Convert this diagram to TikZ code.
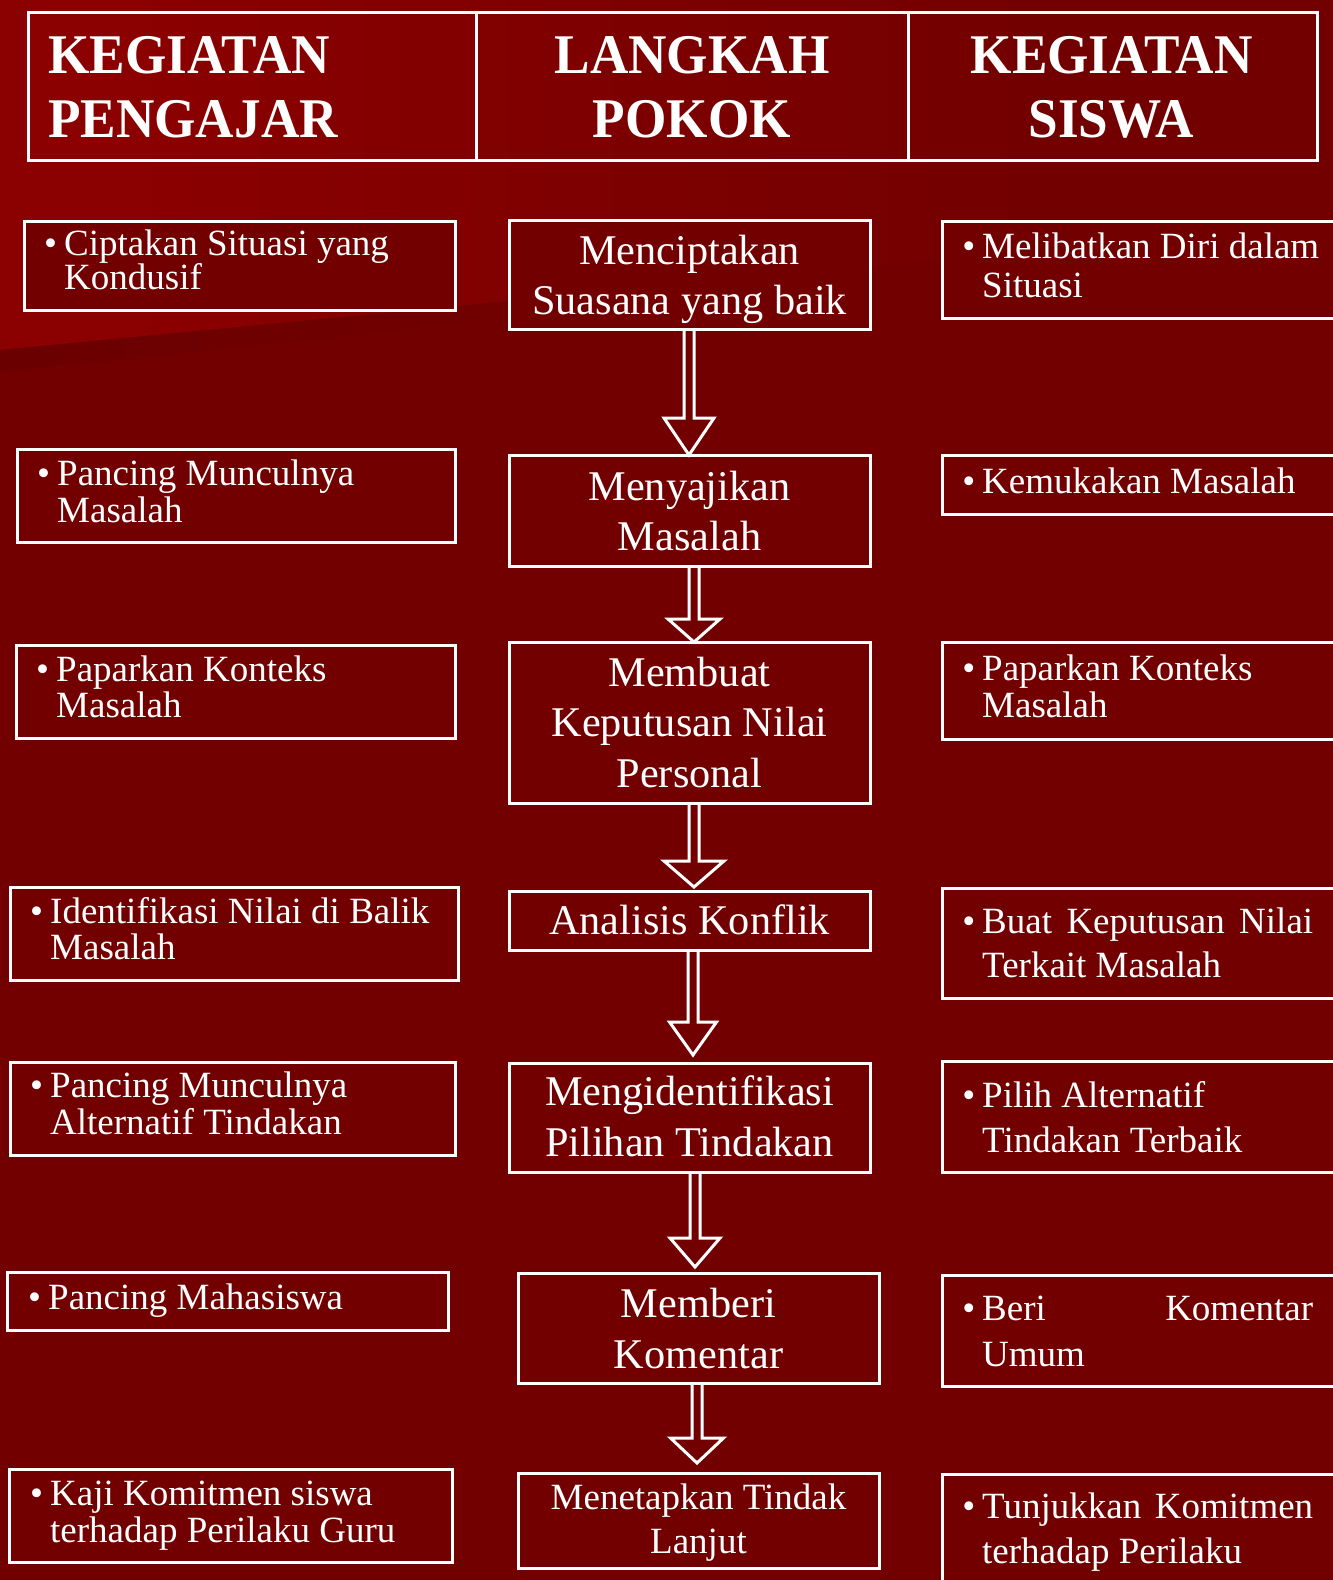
\documentclass[tikz,border=0pt]{standalone}
\usepackage{fontspec}
\setmainfont{Liberation Serif}
\newfontfamily\headfont{Liberation Serif}[FakeStretch=0.95]
\usetikzlibrary{calc}

\definecolor{bgred}{RGB}{114,0,0}
\definecolor{glowred}{RGB}{139,0,0}
\definecolor{shadered}{RGB}{102,0,0}

\pgfdeclarehorizontalshading{glow}{100bp}{color(0bp)=(glowred); color(30bp)=(glowred); color(50bp)=(glowred!40!bgred); color(65bp)=(bgred); color(100bp)=(bgred)}
\pgfdeclarehorizontalshading{edgeshadow}{100bp}{color(0bp)=(shadered); color(25bp)=(shadered!60!bgred); color(45bp)=(bgred); color(100bp)=(bgred)}

% rows of text with a fixed distance between baselines
\newcommand\leftrows[2]{\vtop{\baselineskip=#1pt\lineskiplimit=-1000pt\lineskip=0pt\halign{##\hfil\cr#2\crcr}}}
\newcommand\centerrows[2]{\vtop{\baselineskip=#1pt\lineskiplimit=-1000pt\lineskip=0pt\halign{\hfil##\hfil\cr#2\crcr}}}
\newcommand\bulleted[2]{\llap{\textbullet\hspace{7pt}}\leftrows{#1}{#2}}

% framed box from (x1,y1) to (x2,y2)
\newcommand\panel[6][panel]{\node[#1, minimum width=#5-#3, minimum height=#6-#4] (#2) at (#3,#4) {};}

% hollow block arrow: start, tip, shaft half width, head half width, head length
\newcommand\blockarrow[5]{%
  \draw[arrowline] ($(#1)+(-#3,0)$) -- ($(#1 |- #2)+(-#3,-#5)$) -- ($(#1 |- #2)+(-#4,-#5)$)
    -- (#1 |- #2) -- ($(#1 |- #2)+(#4,-#5)$) -- ($(#1 |- #2)+(#3,-#5)$) -- ($(#1)+(#3,0)$);}

\begin{document}
\begin{tikzpicture}[x=1pt,y=-1pt,
  panel/.style={draw=white, line width=3pt, fill=bgred, inner sep=0pt, outer sep=0pt, anchor=north west},
  headcell/.style={draw=white, line width=3pt, inner sep=0pt, outer sep=0pt, anchor=north west},
  itemtext/.style={text=white, inner sep=0pt, anchor=base west, font=\fontsize{37}{37}\selectfont},
  steptext/.style={text=white, inner sep=0pt, anchor=base, font=\fontsize{42.3}{50}\selectfont},
  headtext/.style={text=white, inner sep=0pt, font=\headfont\bfseries\fontsize{56}{64}\selectfont},
  arrowline/.style={draw=white, line width=3pt, line join=miter}]

\useasboundingbox (0,0) rectangle (1333,1580);
\clip (0,0) rectangle (1333,1580);

% background
\fill[bgred] (0,0) rectangle (1333,1580);
\shade[shading=glow] (0,0) -- (1333,0) -- (1333,222) -- (0,350) -- cycle;
\shade[shading=edgeshadow] (0,350) -- (1333,222) -- (1333,236) -- (0,372) -- cycle;

% header cells
\panel[headcell]{hd1}{28}{12}{476}{160}
\panel[headcell]{hd2}{476}{12}{908}{160}
\panel[headcell]{hd3}{908}{12}{1317}{160}
\node[headtext, anchor=base west] (hd1t) at (48,73) {\leftrows{64}{KEGIATAN\cr PENGAJAR}};
\node[headtext, anchor=base] (hd2t) at (692,73) {\centerrows{64}{LANGKAH\cr POKOK}};
\node[headtext, anchor=base] (hd3t) at (1111.5,73) {\centerrows{64}{KEGIATAN\cr SISWA}};

% teacher column
\panel{l1}{24}{221}{455}{310}
\panel{l2}{17}{449}{455}{542}
\panel{l3}{16}{645}{455}{738}
\panel{l4}{10}{887}{458}{980}
\panel{l5}{10}{1062}{455}{1155}
\panel{l6}{7}{1272}{448}{1330}
\panel{l7}{9}{1469}{452}{1562}

% main steps
\panel{m1}{509}{220}{870}{329}
\panel{m2}{509}{455}{870}{566}
\panel{m3}{509}{642}{870}{803}
\panel{m4}{509}{891}{870}{950}
\panel{m5}{509}{1063}{870}{1172}
\panel{m6}{518}{1273}{879}{1383}
\panel{m7}{518}{1473}{879}{1568}

% student column
\panel{r1}{942}{221}{1345}{318}
\panel{r2}{942}{455}{1345}{514}
\panel{r3}{942}{642}{1345}{739}
\panel{r4}{942}{888}{1345}{998}
\panel{r5}{942}{1061}{1345}{1172}
\panel{r6}{942}{1275}{1345}{1386}
\panel{r7}{942}{1474}{1345}{1600}

% arrows between the steps
\coordinate (a1s) at ($(m1.south)+(-0.5,0)$);
\coordinate (a1e) at (m2.north);
\coordinate (a2s) at ($(m2.south)+(4.5,0)$);
\coordinate (a2e) at (m3.north);
\coordinate (a3s) at ($(m3.south)+(4.5,0)$);
\coordinate (a3e) at ($(m4.north)+(0,-4)$);
\coordinate (a4s) at ($(m4.south)+(3.5,0)$);
\coordinate (a4e) at ($(m5.north)+(0,-8)$);
\coordinate (a5s) at ($(m5.south)+(5.5,0)$);
\coordinate (a5e) at ($(m6.north)+(0,-6)$);
\coordinate (a6s) at ($(m6.south)+(-1.5,0)$);
\coordinate (a6e) at ($(m7.north)+(0,-10)$);
\blockarrow{a1s}{a1e}{5}{25}{37}
\blockarrow{a2s}{a2e}{5}{26}{23}
\blockarrow{a3s}{a3e}{5}{30}{26}
\blockarrow{a4s}{a4e}{5}{23.5}{33}
\blockarrow{a5s}{a5e}{5}{25}{29}
\blockarrow{a6s}{a6e}{5}{26.5}{25}

% teacher texts
\node[itemtext] (l1t) at (64,255) {\bulleted{34}{Ciptakan Situasi yang\cr Kondusif}};
\node[itemtext] (l2t) at (57,485) {\bulleted{37}{Pancing Munculnya\cr Masalah}};
\node[itemtext] (l3t) at (56,681) {\bulleted{36}{Paparkan Konteks\cr Masalah}};
\node[itemtext] (l4t) at (50,923) {\bulleted{36}{Identifikasi Nilai di Balik\cr Masalah}};
\node[itemtext] (l5t) at (50,1097) {\bulleted{37}{Pancing Munculnya\cr Alternatif Tindakan}};
\node[itemtext] (l6t) at (48,1309) {\bulleted{37}{Pancing Mahasiswa}};
\node[itemtext] (l7t) at (50,1505) {\bulleted{37}{Kaji Komitmen siswa\cr terhadap Perilaku Guru}};

% step texts
\node[steptext] (m1t) at (689.5,264) {\centerrows{50}{Menciptakan\cr Suasana yang baik}};
\node[steptext] (m2t) at (689.5,500) {\centerrows{50}{Menyajikan\cr Masalah}};
\node[steptext] (m3t) at (689.5,686) {\centerrows{50.5}{Membuat\cr Keputusan Nilai\cr Personal}};
\node[steptext] (m4t) at (689.5,934) {\centerrows{50}{Analisis Konflik}};
\node[steptext] (m5t) at (689.5,1105) {\centerrows{51}{Mengidentifikasi\cr Pilihan Tindakan}};
\node[steptext] (m6t) at (698.5,1317) {\centerrows{51}{Memberi\cr Komentar}};
\node[steptext, font=\fontsize{37}{44}\selectfont] (m7t) at (698.5,1509) {\centerrows{44}{Menetapkan Tindak\cr Lanjut}};

% student texts
\node[itemtext] (r1t) at (982,258) {\bulleted{39}{Melibatkan Diri dalam\cr Situasi}};
\node[itemtext] (r2t) at (982,493) {\bulleted{37}{Kemukakan Masalah}};
\node[itemtext] (r3t) at (982,680) {\bulleted{37}{Paparkan Konteks\cr Masalah}};
\node[itemtext] (r4t) at (982,933) {\bulleted{44}{\hbox to 331pt{Buat\hfill Keputusan\hfill Nilai}\cr Terkait Masalah}};
\node[itemtext] (r5t) at (982,1107) {\bulleted{45}{Pilih Alternatif\cr Tindakan Terbaik}};
\node[itemtext] (r6t) at (982,1320) {\bulleted{46}{\hbox to 331pt{Beri\hfill Komentar}\cr Umum}};
\node[itemtext] (r7t) at (982,1518) {\bulleted{45}{\hbox to 331pt{Tunjukkan\hfill Komitmen}\cr terhadap Perilaku}};
\end{tikzpicture}
\end{document}
